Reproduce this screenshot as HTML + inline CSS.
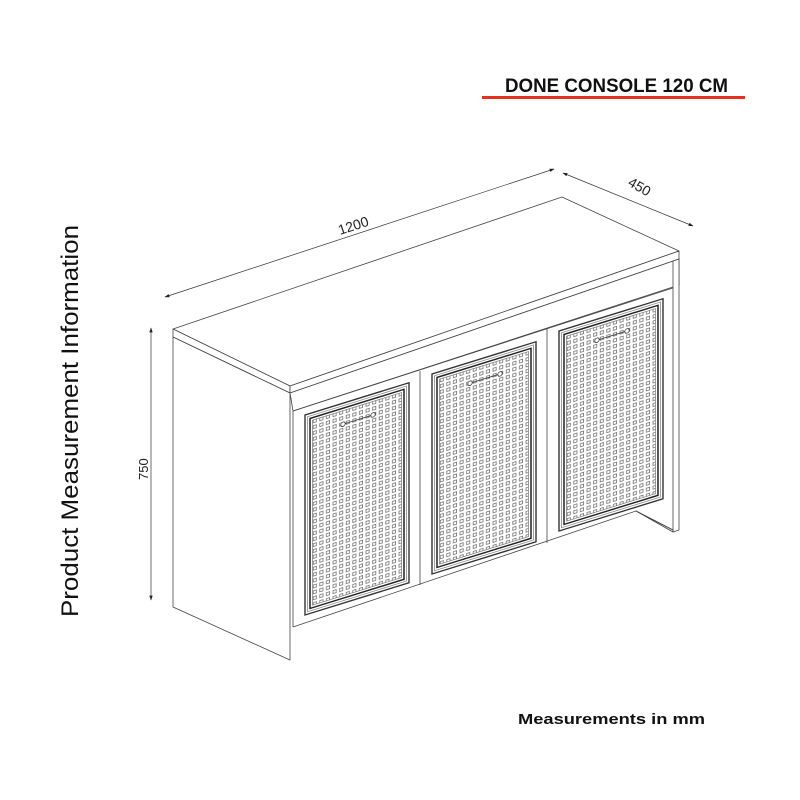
<!DOCTYPE html>
<html><head><meta charset="utf-8"><style>
html,body{margin:0;padding:0;background:#fff;}
svg{display:block;}
</style></head><body>
<svg width="800" height="800" viewBox="0 0 800 800" xmlns="http://www.w3.org/2000/svg">
<defs>
<marker id="ar" viewBox="0 0 10 10" refX="9" refY="5" markerWidth="7" markerHeight="7" orient="auto-start-reverse"><path d="M0,1.5 L10,5 L0,8.5 z" fill="#222"/></marker>
<pattern id="mesh" width="6.6" height="5.9" patternUnits="userSpaceOnUse">
<rect x="1.6" y="1.4" width="3.2" height="3" fill="none" stroke="#6a6a6a" stroke-width="0.75"/>
</pattern>
<g id="door">
<rect x="0" y="0" width="104" height="200" fill="#fff" stroke="#333" stroke-width="1.4"/>
<rect x="2.5" y="2.5" width="99" height="195" fill="none" stroke="#888" stroke-width="0.8"/>
<rect x="5" y="5" width="94" height="190" fill="none" stroke="#222" stroke-width="1.5"/>
<rect x="7.5" y="7.5" width="89" height="185" fill="url(#mesh)" stroke="#777" stroke-width="0.7"/>
<line x1="38" y1="21" x2="68" y2="21" stroke="#333" stroke-width="0.8"/>
<circle cx="38" cy="21" r="2.2" fill="#fff" stroke="#333" stroke-width="0.8"/>
<circle cx="68" cy="21" r="2.2" fill="#fff" stroke="#333" stroke-width="0.8"/>
</g>
</defs>

<text x="505" y="92" font-family="Liberation Sans, sans-serif" font-weight="bold" font-size="19" textLength="223" lengthAdjust="spacingAndGlyphs" fill="#111">DONE CONSOLE 120 CM</text>
<line x1="482" y1="97.5" x2="745" y2="97.5" stroke="#e8301c" stroke-width="3"/>

<text transform="translate(78,617) rotate(-90)" font-family="Liberation Sans, sans-serif" font-size="24" textLength="392" lengthAdjust="spacingAndGlyphs" fill="#111">Product Measurement Information</text>

<g stroke="#333" stroke-width="0.7" fill="none">
<line x1="165" y1="297" x2="554" y2="169" marker-start="url(#ar)" marker-end="url(#ar)"/>
<line x1="563" y1="173" x2="693" y2="226" marker-start="url(#ar)" marker-end="url(#ar)"/>
<line x1="151" y1="328" x2="151" y2="600" marker-start="url(#ar)" marker-end="url(#ar)"/>
</g>
<text transform="translate(340,235) rotate(-18)" font-family="Liberation Sans, sans-serif" font-size="14" fill="#222">1200</text>
<text transform="translate(627,185) rotate(30)" font-family="Liberation Sans, sans-serif" font-size="14" fill="#222">450</text>
<text transform="translate(148,480) rotate(-90)" font-family="Liberation Sans, sans-serif" font-size="13" fill="#222">750</text>

<g stroke="#444" stroke-width="0.8" fill="#fff" stroke-linejoin="round">
<polygon points="173,329 562,197 679,251 290,386"/>
<polygon points="173,329 290,386 290,393 173,337"/>
<polygon points="290,386 679,251 679,259 290,393"/>
<polygon points="173,337 290,393 290,660 173,607"/>
<polygon points="290,393 679,259 679,286 293,411"/>
<polygon points="673,261 679,259 679,530 673,532"/>
<polygon points="636,511 673,530 673,532"/>
</g>
<g stroke="#444" stroke-width="0.8" fill="none">
<line x1="293" y1="411" x2="293" y2="627"/>
<line x1="293" y1="627" x2="636" y2="511"/>
<line x1="636" y1="511" x2="673" y2="530"/>
<line x1="420" y1="371" x2="420" y2="585"/>
<line x1="547" y1="328" x2="547" y2="543"/>
<line x1="293" y1="411" x2="673" y2="287"/>
</g>

<use href="#door" transform="matrix(1,-0.31,0,1,305,415)"/>
<use href="#door" transform="matrix(1,-0.31,0,1,432,374)"/>
<use href="#door" transform="matrix(1,-0.31,0,1,559,331)"/>

<text x="518" y="724" font-family="Liberation Sans, sans-serif" font-weight="bold" font-size="15" textLength="187" lengthAdjust="spacingAndGlyphs" fill="#111">Measurements in mm</text>
</svg>
</body></html>
